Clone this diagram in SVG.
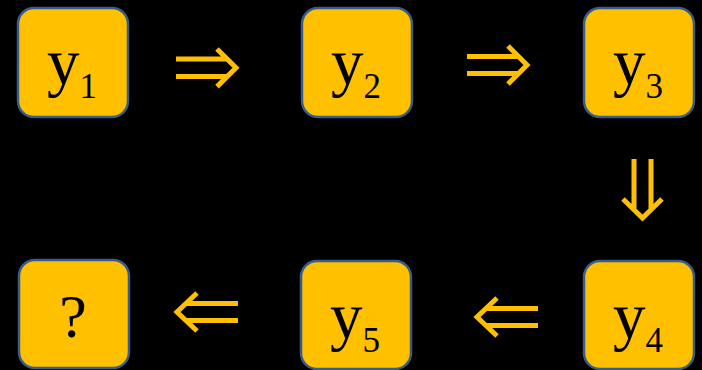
<svg xmlns="http://www.w3.org/2000/svg" width="702" height="370" viewBox="0 0 702 370">
<style>
.box{fill:#FFC000;stroke:#385D8A;stroke-width:2.5}
.lbl{font-family:"Liberation Serif","Times New Roman",serif;font-size:65px;fill:#000;text-anchor:middle}
.sub{font-size:35px}
.arr{fill:none;stroke:#FFC000;stroke-width:5;stroke-linejoin:miter;stroke-linecap:butt}
</style>
<rect width="702" height="370" fill="#000"/>
<g id="y1"><rect class="box" x="18" y="8" width="110" height="109" rx="16"/><text class="lbl" x="72" y="84">y<tspan class="sub" dy="14">1</tspan></text></g>
<g id="y2"><rect class="box" x="302" y="8" width="110" height="109" rx="16"/><text class="lbl" x="356" y="84">y<tspan class="sub" dy="14">2</tspan></text></g>
<g id="y3"><rect class="box" x="584" y="8" width="110" height="109" rx="16"/><text class="lbl" x="638" y="84">y<tspan class="sub" dy="14">3</tspan></text></g>
<g id="y4"><rect class="box" x="584" y="261" width="110" height="108" rx="16"/><text class="lbl" x="638" y="338">y<tspan class="sub" dy="14">4</tspan></text></g>
<g id="y5"><rect class="box" x="301" y="261" width="110" height="108" rx="16"/><text class="lbl" x="355" y="338">y<tspan class="sub" dy="14">5</tspan></text></g>
<g id="q"><rect class="box" x="19" y="260" width="110" height="108" rx="16"/><text class="lbl" x="73" y="337" style="font-size:62px">?</text></g>
<g id="connectors">
<path class="arr" d="M176,59H227M176,76.5H227M217,49L236,67.8L217,86.6"/>
<path class="arr" d="M467,56.5H518M467,73.5H518M508,46L527,65L508,84"/>
<path class="arr" d="M634,159V209M651,159V209M623,199L642.5,218L662,199"/>
<path class="arr" d="M538,308.5H486M538,325.5H486M497,298L477,317L497,336"/>
<path class="arr" d="M238,303.5H186M238,320.5H186M197,293L177,312L197,331"/>
</g>
</svg>
